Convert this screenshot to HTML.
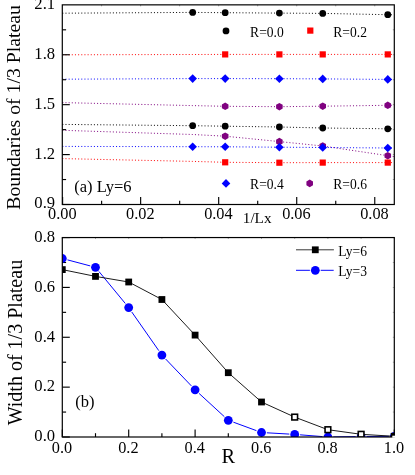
<!DOCTYPE html>
<html><head><meta charset="utf-8"><title>chart</title>
<style>
html,body{margin:0;padding:0;background:#fff;}
body{width:415px;height:475px;overflow:hidden;}
svg{display:block;}
text{font-family:"Liberation Serif",serif;fill:#000;}
.t{font-size:16.3px;}.y{font-size:16.6px;}.b{font-size:16.5px;}
.l{font-size:14px;}
.x{font-size:15.2px;}
.a{font-size:19.75px;}.a2{font-size:20.05px;}.r{font-size:20.4px;}
</style></head><body>
<svg width="415" height="475" viewBox="0 0 415 475">
<rect width="415" height="475" fill="#fff"/>
<g opacity="0.999">

<path d="M62.30 13.20 L192.67 12.40 L225.18 12.70 L279.38 13.10 L322.73 13.40 L387.77 14.70 L394.30 14.83" fill="none" stroke="#000" stroke-width="0.95" stroke-dasharray="1.05 2.11"/>
<path d="M62.30 54.80 L192.67 54.50 L225.18 54.40 L279.38 54.40 L322.73 54.40 L387.77 54.40 L394.30 54.40" fill="none" stroke="#f00" stroke-width="0.95" stroke-dasharray="1.05 2.11"/>
<path d="M62.30 79.20 L192.67 78.60 L225.18 78.60 L279.38 78.70 L322.73 78.90 L387.77 79.40 L394.30 79.45" fill="none" stroke="#00f" stroke-width="0.95" stroke-dasharray="1.05 2.11"/>
<path d="M62.30 102.60 L192.67 105.60 L225.18 106.30 L279.38 106.70 L322.73 106.20 L387.77 105.30 L394.30 105.21" fill="none" stroke="#800080" stroke-width="0.95" stroke-dasharray="1.05 2.11"/>
<path d="M62.30 124.40 L192.67 125.70 L225.18 126.20 L279.38 127.00 L322.73 128.00 L387.77 128.80 L394.30 128.88" fill="none" stroke="#000" stroke-width="0.95" stroke-dasharray="1.05 2.11"/>
<path d="M62.30 130.30 L192.67 134.50 L225.18 136.20 L279.38 141.60 L322.73 146.00 L387.77 155.70 L394.30 156.67" fill="none" stroke="#800080" stroke-width="0.95" stroke-dasharray="1.05 2.11"/>
<path d="M62.30 146.40 L192.67 146.70 L225.18 146.80 L279.38 147.20 L322.73 147.50 L387.77 148.00 L394.30 148.05" fill="none" stroke="#00f" stroke-width="0.95" stroke-dasharray="1.05 2.11"/>
<path d="M62.30 158.60 L192.67 161.40 L225.18 162.30 L279.38 162.70 L322.73 162.60 L387.77 162.60 L394.30 162.60" fill="none" stroke="#f00" stroke-width="0.95" stroke-dasharray="1.05 2.11"/>
<circle cx="192.67" cy="12.40" r="3.4" fill="#000"/>
<circle cx="225.18" cy="12.70" r="3.4" fill="#000"/>
<circle cx="279.38" cy="13.10" r="3.4" fill="#000"/>
<circle cx="322.73" cy="13.40" r="3.4" fill="#000"/>
<circle cx="387.77" cy="14.70" r="3.4" fill="#000"/>
<rect x="222.08" y="51.30" width="6.2" height="6.2" fill="#f00"/>
<rect x="276.28" y="51.30" width="6.2" height="6.2" fill="#f00"/>
<rect x="319.63" y="51.30" width="6.2" height="6.2" fill="#f00"/>
<rect x="384.67" y="51.30" width="6.2" height="6.2" fill="#f00"/>
<path d="M192.67 74.30l4.3 4.3l-4.3 4.3l-4.3 -4.3z" fill="#00f"/>
<path d="M225.18 74.30l4.3 4.3l-4.3 4.3l-4.3 -4.3z" fill="#00f"/>
<path d="M279.38 74.40l4.3 4.3l-4.3 4.3l-4.3 -4.3z" fill="#00f"/>
<path d="M322.73 74.60l4.3 4.3l-4.3 4.3l-4.3 -4.3z" fill="#00f"/>
<path d="M387.77 75.10l4.3 4.3l-4.3 4.3l-4.3 -4.3z" fill="#00f"/>
<polygon points="228.47,108.20 225.18,110.10 221.89,108.20 221.89,104.40 225.18,102.50 228.47,104.40" fill="#800080"/>
<polygon points="282.67,108.60 279.38,110.50 276.09,108.60 276.09,104.80 279.38,102.90 282.67,104.80" fill="#800080"/>
<polygon points="326.02,108.10 322.73,110.00 319.44,108.10 319.44,104.30 322.73,102.40 326.02,104.30" fill="#800080"/>
<polygon points="391.06,107.20 387.77,109.10 384.48,107.20 384.48,103.40 387.77,101.50 391.06,103.40" fill="#800080"/>
<circle cx="192.67" cy="125.70" r="3.4" fill="#000"/>
<circle cx="225.18" cy="126.20" r="3.4" fill="#000"/>
<circle cx="279.38" cy="127.00" r="3.4" fill="#000"/>
<circle cx="322.73" cy="128.00" r="3.4" fill="#000"/>
<circle cx="387.77" cy="128.80" r="3.4" fill="#000"/>
<polygon points="228.47,138.10 225.18,140.00 221.89,138.10 221.89,134.30 225.18,132.40 228.47,134.30" fill="#800080"/>
<polygon points="282.67,143.50 279.38,145.40 276.09,143.50 276.09,139.70 279.38,137.80 282.67,139.70" fill="#800080"/>
<polygon points="326.02,147.90 322.73,149.80 319.44,147.90 319.44,144.10 322.73,142.20 326.02,144.10" fill="#800080"/>
<polygon points="391.06,157.60 387.77,159.50 384.48,157.60 384.48,153.80 387.77,151.90 391.06,153.80" fill="#800080"/>
<path d="M192.67 142.40l4.3 4.3l-4.3 4.3l-4.3 -4.3z" fill="#00f"/>
<path d="M225.18 142.50l4.3 4.3l-4.3 4.3l-4.3 -4.3z" fill="#00f"/>
<path d="M279.38 142.90l4.3 4.3l-4.3 4.3l-4.3 -4.3z" fill="#00f"/>
<path d="M322.73 143.20l4.3 4.3l-4.3 4.3l-4.3 -4.3z" fill="#00f"/>
<path d="M387.77 143.70l4.3 4.3l-4.3 4.3l-4.3 -4.3z" fill="#00f"/>
<rect x="222.08" y="159.20" width="6.2" height="6.2" fill="#f00"/>
<rect x="276.28" y="159.60" width="6.2" height="6.2" fill="#f00"/>
<rect x="319.63" y="159.50" width="6.2" height="6.2" fill="#f00"/>
<rect x="384.67" y="159.50" width="6.2" height="6.2" fill="#f00"/>
<path d="M62.60 204.5v-7.5" stroke="#000" stroke-width="1.15"/>
<path d="M62.60 4.85v1.5" stroke="#000" stroke-width="0.8" opacity="0.45"/>
<path d="M101.62 204.5v-3.8" stroke="#000" stroke-width="1.15"/>
<path d="M101.62 4.85v1.5" stroke="#000" stroke-width="0.8" opacity="0.45"/>
<path d="M140.64 204.5v-7.5" stroke="#000" stroke-width="1.15"/>
<path d="M140.64 4.85v1.5" stroke="#000" stroke-width="0.8" opacity="0.45"/>
<path d="M179.66 204.5v-3.8" stroke="#000" stroke-width="1.15"/>
<path d="M179.66 4.85v1.5" stroke="#000" stroke-width="0.8" opacity="0.45"/>
<path d="M218.68 204.5v-7.5" stroke="#000" stroke-width="1.15"/>
<path d="M218.68 4.85v1.5" stroke="#000" stroke-width="0.8" opacity="0.45"/>
<path d="M257.70 204.5v-3.8" stroke="#000" stroke-width="1.15"/>
<path d="M257.70 4.85v1.5" stroke="#000" stroke-width="0.8" opacity="0.45"/>
<path d="M296.72 204.5v-7.5" stroke="#000" stroke-width="1.15"/>
<path d="M296.72 4.85v1.5" stroke="#000" stroke-width="0.8" opacity="0.45"/>
<path d="M335.74 204.5v-3.8" stroke="#000" stroke-width="1.15"/>
<path d="M335.74 4.85v1.5" stroke="#000" stroke-width="0.8" opacity="0.45"/>
<path d="M374.76 204.5v-7.5" stroke="#000" stroke-width="1.15"/>
<path d="M374.76 4.85v1.5" stroke="#000" stroke-width="0.8" opacity="0.45"/>
<path d="M62.3 204.50h7.5" stroke="#000" stroke-width="1.15"/>
<path d="M394.3 204.50h-1.5" stroke="#000" stroke-width="0.8" opacity="0.45"/>
<path d="M62.3 179.54h3.8" stroke="#000" stroke-width="1.15"/>
<path d="M394.3 179.54h-1.5" stroke="#000" stroke-width="0.8" opacity="0.45"/>
<path d="M62.3 154.59h7.5" stroke="#000" stroke-width="1.15"/>
<path d="M394.3 154.59h-1.5" stroke="#000" stroke-width="0.8" opacity="0.45"/>
<path d="M62.3 129.63h3.8" stroke="#000" stroke-width="1.15"/>
<path d="M394.3 129.63h-1.5" stroke="#000" stroke-width="0.8" opacity="0.45"/>
<path d="M62.3 104.67h7.5" stroke="#000" stroke-width="1.15"/>
<path d="M394.3 104.67h-1.5" stroke="#000" stroke-width="0.8" opacity="0.45"/>
<path d="M62.3 79.72h3.8" stroke="#000" stroke-width="1.15"/>
<path d="M394.3 79.72h-1.5" stroke="#000" stroke-width="0.8" opacity="0.45"/>
<path d="M62.3 54.76h7.5" stroke="#000" stroke-width="1.15"/>
<path d="M394.3 54.76h-1.5" stroke="#000" stroke-width="0.8" opacity="0.45"/>
<path d="M62.3 29.81h3.8" stroke="#000" stroke-width="1.15"/>
<path d="M394.3 29.81h-1.5" stroke="#000" stroke-width="0.8" opacity="0.45"/>
<rect x="62.3" y="4.85" width="332.00" height="199.65" fill="none" stroke="#000" stroke-width="1.2"/>
<circle cx="226.00" cy="30.90" r="3.4" fill="#000"/>
<text class="l" transform="translate(250.10,36.70) scale(0.97,1)">R=0.0</text>
<rect x="307.20" y="27.50" width="6.2" height="6.2" fill="#f00"/>
<text class="l" transform="translate(333.30,36.70) scale(0.97,1)">R=0.2</text>
<path d="M226.00 179.10l4.3 4.3l-4.3 4.3l-4.3 -4.3z" fill="#00f"/>
<text class="l" transform="translate(250.10,188.70) scale(0.97,1)">R=0.4</text>
<polygon points="312.99,185.30 309.70,187.20 306.41,185.30 306.41,181.50 309.70,179.60 312.99,181.50" fill="#800080"/>
<text class="l" transform="translate(333.30,188.70) scale(0.97,1)">R=0.6</text>
<text class="b" x="74.20" y="192.40">(a) Ly=6</text>
<text class="y" x="55.10" y="8.90" text-anchor="end">2.1</text>
<text class="y" x="55.10" y="59.06" text-anchor="end">1.8</text>
<text class="y" x="55.10" y="108.97" text-anchor="end">1.5</text>
<text class="y" x="55.10" y="158.89" text-anchor="end">1.2</text>
<text class="y" x="55.10" y="208.10" text-anchor="end">0.9</text>
<text class="t" x="62.30" y="218.90" text-anchor="middle">0.00</text>
<text class="t" x="140.34" y="218.90" text-anchor="middle">0.02</text>
<text class="t" x="218.38" y="218.90" text-anchor="middle">0.04</text>
<text class="t" x="296.42" y="218.90" text-anchor="middle">0.06</text>
<text class="t" x="374.46" y="218.90" text-anchor="middle">0.08</text>
<text class="x" x="242.80" y="222.90">1/Lx</text>
<text class="a" transform="translate(20.3,107.4) rotate(-90)" text-anchor="middle">Boundaries of 1/3 Plateau</text>
<defs><clipPath id="c2"><rect x="62.3" y="237.55" width="332.00" height="199.45"/></clipPath></defs>
<path d="M62.30 437.0v-7.5" stroke="#000" stroke-width="1.15"/>
<path d="M62.30 237.55v1.5" stroke="#000" stroke-width="0.8" opacity="0.4"/>
<path d="M95.50 437.0v-3.8" stroke="#000" stroke-width="1.15"/>
<path d="M95.50 237.55v1.5" stroke="#000" stroke-width="0.8" opacity="0.4"/>
<path d="M128.70 437.0v-7.5" stroke="#000" stroke-width="1.15"/>
<path d="M128.70 237.55v1.5" stroke="#000" stroke-width="0.8" opacity="0.4"/>
<path d="M161.90 437.0v-3.8" stroke="#000" stroke-width="1.15"/>
<path d="M161.90 237.55v1.5" stroke="#000" stroke-width="0.8" opacity="0.4"/>
<path d="M195.10 437.0v-7.5" stroke="#000" stroke-width="1.15"/>
<path d="M195.10 237.55v1.5" stroke="#000" stroke-width="0.8" opacity="0.4"/>
<path d="M228.30 437.0v-3.8" stroke="#000" stroke-width="1.15"/>
<path d="M228.30 237.55v1.5" stroke="#000" stroke-width="0.8" opacity="0.4"/>
<path d="M261.50 437.0v-7.5" stroke="#000" stroke-width="1.15"/>
<path d="M261.50 237.55v1.5" stroke="#000" stroke-width="0.8" opacity="0.4"/>
<path d="M294.70 437.0v-3.8" stroke="#000" stroke-width="1.15"/>
<path d="M294.70 237.55v1.5" stroke="#000" stroke-width="0.8" opacity="0.4"/>
<path d="M327.90 437.0v-7.5" stroke="#000" stroke-width="1.15"/>
<path d="M327.90 237.55v1.5" stroke="#000" stroke-width="0.8" opacity="0.4"/>
<path d="M361.10 437.0v-3.8" stroke="#000" stroke-width="1.15"/>
<path d="M361.10 237.55v1.5" stroke="#000" stroke-width="0.8" opacity="0.4"/>
<path d="M394.30 437.0v-7.5" stroke="#000" stroke-width="1.15"/>
<path d="M394.30 237.55v1.5" stroke="#000" stroke-width="0.8" opacity="0.4"/>
<path d="M62.3 437.00h7.5" stroke="#000" stroke-width="1.15"/>
<path d="M394.3 437.00h-1.5" stroke="#000" stroke-width="0.8" opacity="0.4"/>
<path d="M62.3 412.07h3.8" stroke="#000" stroke-width="1.15"/>
<path d="M394.3 412.07h-1.5" stroke="#000" stroke-width="0.8" opacity="0.4"/>
<path d="M62.3 387.14h7.5" stroke="#000" stroke-width="1.15"/>
<path d="M394.3 387.14h-1.5" stroke="#000" stroke-width="0.8" opacity="0.4"/>
<path d="M62.3 362.21h3.8" stroke="#000" stroke-width="1.15"/>
<path d="M394.3 362.21h-1.5" stroke="#000" stroke-width="0.8" opacity="0.4"/>
<path d="M62.3 337.27h7.5" stroke="#000" stroke-width="1.15"/>
<path d="M394.3 337.27h-1.5" stroke="#000" stroke-width="0.8" opacity="0.4"/>
<path d="M62.3 312.34h3.8" stroke="#000" stroke-width="1.15"/>
<path d="M394.3 312.34h-1.5" stroke="#000" stroke-width="0.8" opacity="0.4"/>
<path d="M62.3 287.41h7.5" stroke="#000" stroke-width="1.15"/>
<path d="M394.3 287.41h-1.5" stroke="#000" stroke-width="0.8" opacity="0.4"/>
<path d="M62.3 262.48h3.8" stroke="#000" stroke-width="1.15"/>
<path d="M394.3 262.48h-1.5" stroke="#000" stroke-width="0.8" opacity="0.4"/>
<path d="M62.3 237.55h7.5" stroke="#000" stroke-width="1.15"/>
<path d="M394.3 237.55h-1.5" stroke="#000" stroke-width="0.8" opacity="0.4"/>
<g clip-path="url(#c2)">
<path d="M67.52 259.88L90.28 265.92M98.93 271.47L125.27 303.43M131.79 312.03L158.81 350.67M165.63 359.00L191.37 385.90M199.08 393.45L224.32 416.65M233.37 422.16L256.43 430.64M266.89 432.81L289.31 434.09M300.08 434.82L322.52 436.58M333.30 436.92L355.70 436.58M366.50 436.47L388.90 436.33" fill="none" stroke="#00f" stroke-width="1.0"/>
<circle cx="62.30" cy="258.50" r="4.4" fill="#00f"/>
<circle cx="95.50" cy="267.30" r="4.4" fill="#00f"/>
<circle cx="128.70" cy="307.60" r="4.4" fill="#00f"/>
<circle cx="161.90" cy="355.10" r="4.4" fill="#00f"/>
<circle cx="195.10" cy="389.80" r="4.4" fill="#00f"/>
<circle cx="228.30" cy="420.30" r="4.4" fill="#00f"/>
<circle cx="261.50" cy="432.50" r="4.4" fill="#00f"/>
<circle cx="294.70" cy="434.40" r="4.4" fill="#00f"/>
<circle cx="327.90" cy="437.00" r="4.4" fill="#00f"/>
<circle cx="361.10" cy="436.50" r="4.4" fill="#00f"/>
<circle cx="394.30" cy="436.30" r="4.4" fill="#00f"/>
<path d="M62.30 269.60L95.50 276.40M95.50 276.40L128.70 282.00M128.70 282.00L161.90 299.50M161.90 299.50L195.10 335.10M195.10 335.10L228.30 372.70M228.30 372.70L261.50 402.00M261.50 402.00L294.70 417.10M294.70 417.10L327.90 429.70M327.90 429.70L361.10 434.30M361.10 434.30L394.30 436.30" fill="none" stroke="#000" stroke-width="0.9"/>
<rect x="58.90" y="266.20" width="6.8" height="6.8" fill="#000"/>
<rect x="92.10" y="273.00" width="6.8" height="6.8" fill="#000"/>
<rect x="125.30" y="278.60" width="6.8" height="6.8" fill="#000"/>
<rect x="158.50" y="296.10" width="6.8" height="6.8" fill="#000"/>
<rect x="191.70" y="331.70" width="6.8" height="6.8" fill="#000"/>
<rect x="224.90" y="369.30" width="6.8" height="6.8" fill="#000"/>
<rect x="258.10" y="398.60" width="6.8" height="6.8" fill="#000"/>
<rect x="291.85" y="414.25" width="5.7" height="5.7" fill="#fff" stroke="#000" stroke-width="1.6"/>
<rect x="325.05" y="426.85" width="5.7" height="5.7" fill="#fff" stroke="#000" stroke-width="1.6"/>
<rect x="358.25" y="431.45" width="5.7" height="5.7" fill="#fff" stroke="#000" stroke-width="1.6"/>
<rect x="390.90" y="432.90" width="6.8" height="6.8" fill="#000"/>
</g>
<rect x="62.3" y="237.55" width="332.00" height="199.45" fill="none" stroke="#000" stroke-width="1.2"/>
<g clip-path="url(#c2)"><rect x="390.90" y="432.90" width="6.8" height="6.8" fill="#000"/></g>
<rect x="392.3" y="435.7" width="2.7" height="2.1" fill="#fff"/>
<path d="M296 249.8H333.9" stroke="#000" stroke-width="0.8"/>
<rect x="311.9" y="246.4" width="6.8" height="6.8" fill="#000"/>
<path d="M296 270.3H309.9M320.7 270.3H333.7" stroke="#00f" stroke-width="1"/>
<circle cx="315.3" cy="270.3" r="4.4" fill="#00f"/>
<text class="l" transform="translate(338.20,256.00) scale(0.97,1)">Ly=6</text>
<text class="l" transform="translate(338.20,275.70) scale(0.97,1)">Ly=3</text>
<text class="b" x="75.20" y="407.20">(b)</text>
<text class="y" x="55.10" y="441.00" text-anchor="end">0.0</text>
<text class="y" x="55.10" y="391.44" text-anchor="end">0.2</text>
<text class="y" x="55.10" y="341.57" text-anchor="end">0.4</text>
<text class="y" x="55.10" y="291.71" text-anchor="end">0.6</text>
<text class="y" x="55.10" y="241.85" text-anchor="end">0.8</text>
<text class="t" x="62.00" y="453.10" text-anchor="middle">0.0</text>
<text class="t" x="128.40" y="453.10" text-anchor="middle">0.2</text>
<text class="t" x="194.80" y="453.10" text-anchor="middle">0.4</text>
<text class="t" x="261.20" y="453.10" text-anchor="middle">0.6</text>
<text class="t" x="327.60" y="453.10" text-anchor="middle">0.8</text>
<text class="t" x="394.00" y="453.10" text-anchor="middle">1.0</text>
<text class="r" x="228.4" y="462.8" text-anchor="middle">R</text>
<text class="a2" transform="translate(22.0,342.6) rotate(-90)" text-anchor="middle">Width of 1/3 Plateau</text>
</g></svg></body></html>
